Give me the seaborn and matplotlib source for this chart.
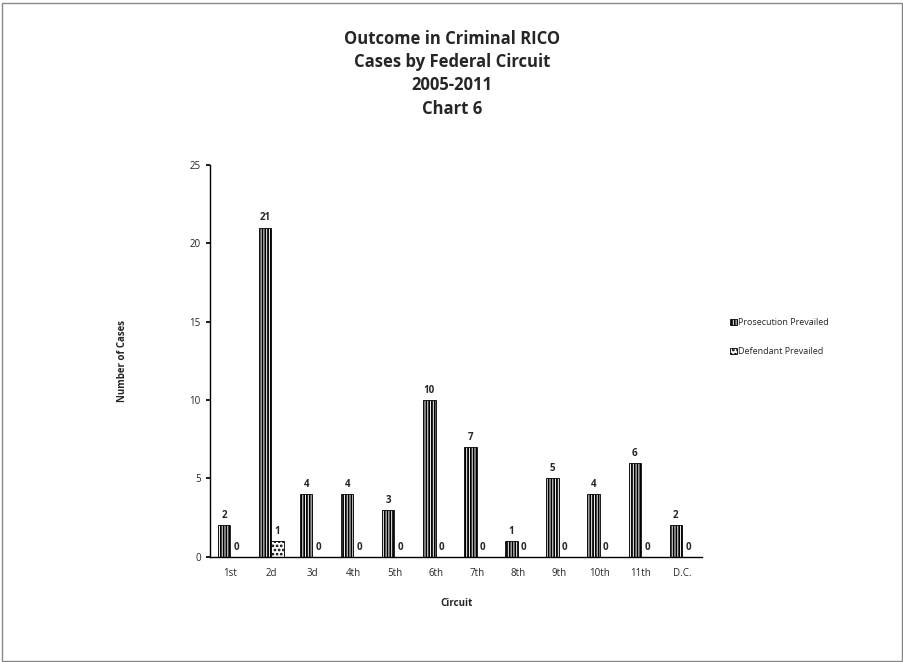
import pandas as pd
import matplotlib.pyplot as plt
import seaborn as sns
from matplotlib.patches import Rectangle

circuits = ['1st', '2d', '3d', '4th', '5th', '6th', '7th', '8th', '9th', '10th', '11th', 'D.C.']
prosecution = [2, 21, 4, 4, 3, 10, 7, 1, 5, 4, 6, 2]
defendant = [0, 1, 0, 0, 0, 0, 0, 0, 0, 0, 0, 0]
series = ['Prosecution Prevailed', 'Defendant Prevailed']

sns.set_theme(style='white')
plt.rcParams['font.family'] = ['Open Sans', 'DejaVu Sans']
plt.rcParams['hatch.linewidth'] = 1.3

df = pd.DataFrame({
    'Circuit': circuits * 2,
    'Cases': prosecution + defendant,
    'Outcome': [series[0]] * len(circuits) + [series[1]] * len(circuits),
})

fig = plt.figure(figsize=(9.04, 6.62), dpi=100)
ax = fig.add_axes([0.232, 0.159, 0.545, 0.592])

sns.barplot(data=df, x='Circuit', y='Cases', hue='Outcome', order=circuits,
            hue_order=series, palette=['white', 'white'], width=0.6,
            edgecolor='black', linewidth=0.6, ax=ax, legend=True)

hatches = ['||||||', '....']
for container, h in zip(ax.containers, hatches):
    for bar in container:
        bar.set_hatch(h)
    ax.bar_label(container, fontsize=7, fontweight='bold', padding=3)

ax.set_ylim(0, 25)
ax.set_yticks(range(0, 26, 5))
ax.tick_params(axis='both', labelsize=7, length=3, direction='out', color='black')
ax.tick_params(axis='x', length=0, pad=8)
ax.tick_params(axis='y', left=True)
for side in ['top', 'right']:
    ax.spines[side].set_visible(False)
for side in ['left', 'bottom']:
    ax.spines[side].set_color('black')
    ax.spines[side].set_linewidth(1.0)

ax.set_xlabel('Circuit', fontsize=7, fontweight='bold', labelpad=14)
ax.set_ylabel('Number of Cases', fontsize=7, fontweight='bold', labelpad=44)

leg = ax.legend(loc='center left', bbox_to_anchor=(1.04, 0.56), frameon=False,
                fontsize=6.5, handlelength=0.7, handleheight=0.7, labelspacing=2.2,
                handletextpad=0.2)
for patch, h in zip(leg.get_patches(), hatches):
    patch.set_hatch(h)

fig.text(0.5, 0.955, 'Outcome in Criminal RICO\nCases by Federal Circuit\n2005-2011\nChart 6',
         ha='center', va='top', fontsize=12, fontweight='bold', linespacing=1.38)

fig.patches.append(Rectangle((0.002, 0.002), 0.996, 0.994, transform=fig.transFigure,
                             fill=False, edgecolor='#888888', linewidth=1.0))

fig.savefig('out.png', dpi=100)
